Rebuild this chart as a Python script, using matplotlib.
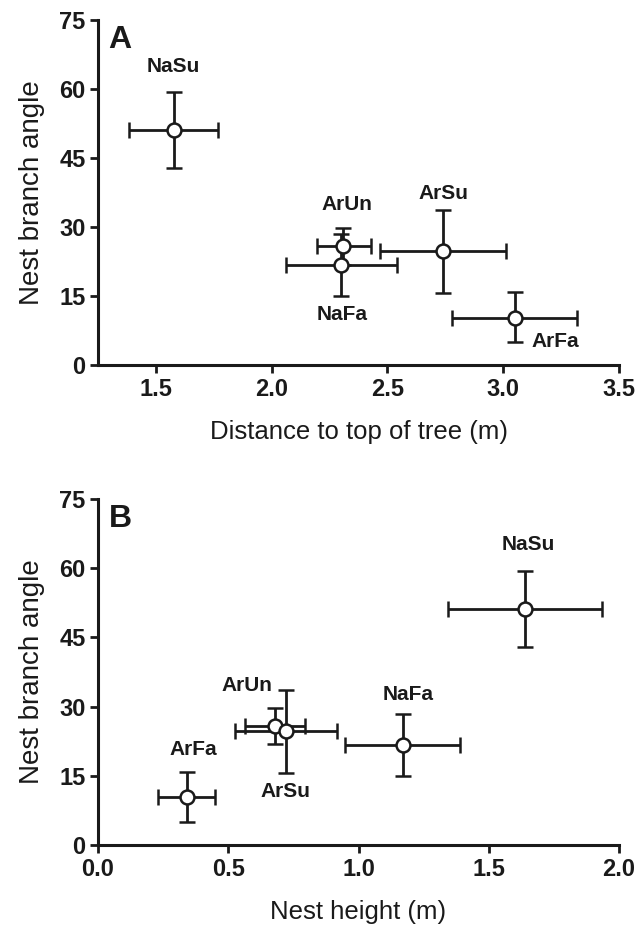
import matplotlib
matplotlib.use("Agg")
import matplotlib.pyplot as plt

reg = "Liberation Sans"

groups = ["NaSu", "ArUn", "NaFa", "ArSu", "ArFa"]
angle = [51.2, 25.8, 21.7, 24.7, 10.3]
angle_lo = [42.9, 21.8, 15.0, 15.6, 5.0]
angle_hi = [59.4, 29.8, 28.5, 33.7, 15.8]

dist = [1.576, 2.309, 2.300, 2.742, 3.05]
dist_lo = [1.382, 2.195, 2.062, 2.467, 2.78]
dist_hi = [1.769, 2.428, 2.542, 3.014, 3.32]

height = [1.64, 0.68, 1.169, 0.722, 0.341]
height_lo = [1.344, 0.5625, 0.95, 0.527, 0.23]
height_hi = [1.934, 0.794, 1.39, 0.919, 0.45]

# label positions (data coords) for each group in each panel
lab_a = {"NaSu": (1.576, 64.9), "ArUn": (2.327, 35.0), "NaFa": (2.304, 10.9),
         "ArSu": (2.74, 37.2), "ArFa": (3.226, 5.2)}
lab_b = {"NaSu": (1.653, 65.1), "ArUn": (0.57, 34.6), "NaFa": (1.19, 32.7),
         "ArSu": (0.719, 11.5), "ArFa": (0.364, 20.6)}

fig = plt.figure(figsize=(6.39, 9.36), dpi=100)
axA = fig.add_axes([0.1534, 0.610, 0.8153, 0.3686])
axB = fig.add_axes([0.1534, 0.0972, 0.8153, 0.3697])

ink = "#1a1a1a"


def draw(ax, xs, xlo, xhi, labpos, xlim, xticks, xlabel, letter):
    for i, g in enumerate(groups):
        ax.errorbar(xs[i], angle[i],
                    xerr=[[xs[i] - xlo[i]], [xhi[i] - xs[i]]],
                    yerr=[[angle[i] - angle_lo[i]], [angle_hi[i] - angle[i]]],
                    fmt="o", mfc="white", mec=ink, mew=1.8, ms=10,
                    ecolor=ink, elinewidth=2.0, capsize=6, capthick=2.0,
                    zorder=3)
        tx, ty = labpos[g]
        ax.text(tx, ty, g, ha="center", va="center", fontsize=15,
                fontweight="bold", family=reg, color=ink)
    ax.set_xlim(*xlim)
    ax.set_ylim(0, 75)
    ax.set_xticks(xticks)
    ax.set_xticklabels([f"{t:.1f}" for t in xticks])
    ax.set_yticks([0, 15, 30, 45, 60, 75])
    for s in ["top", "right"]:
        ax.spines[s].set_visible(False)
    for s in ["left", "bottom"]:
        ax.spines[s].set_linewidth(2.2)
        ax.spines[s].set_color(ink)
    ax.tick_params(width=2.0, length=6, color=ink, pad=3)
    for lbl in ax.get_xticklabels() + ax.get_yticklabels():
        lbl.set_family(reg)
        lbl.set_fontweight("bold")
        lbl.set_fontsize(17)
        lbl.set_color(ink)
    ax.set_xlabel(xlabel, family=reg, fontsize=18.5, color=ink, labelpad=14)
    ax.set_ylabel("Nest branch angle", family=reg, fontsize=20, color=ink, labelpad=10)
    ax.text(0.02, 0.985, letter, transform=ax.transAxes, ha="left", va="top",
            fontsize=23, fontweight="bold", family=reg, color=ink)


draw(axA, dist, dist_lo, dist_hi, lab_a, (1.25, 3.5), [1.5, 2.0, 2.5, 3.0, 3.5],
     "Distance to top of tree (m)", "A")
draw(axB, height, height_lo, height_hi, lab_b, (0.0, 2.0), [0.0, 0.5, 1.0, 1.5, 2.0],
     "Nest height (m)", "B")

fig.savefig("out.png", dpi=100)
